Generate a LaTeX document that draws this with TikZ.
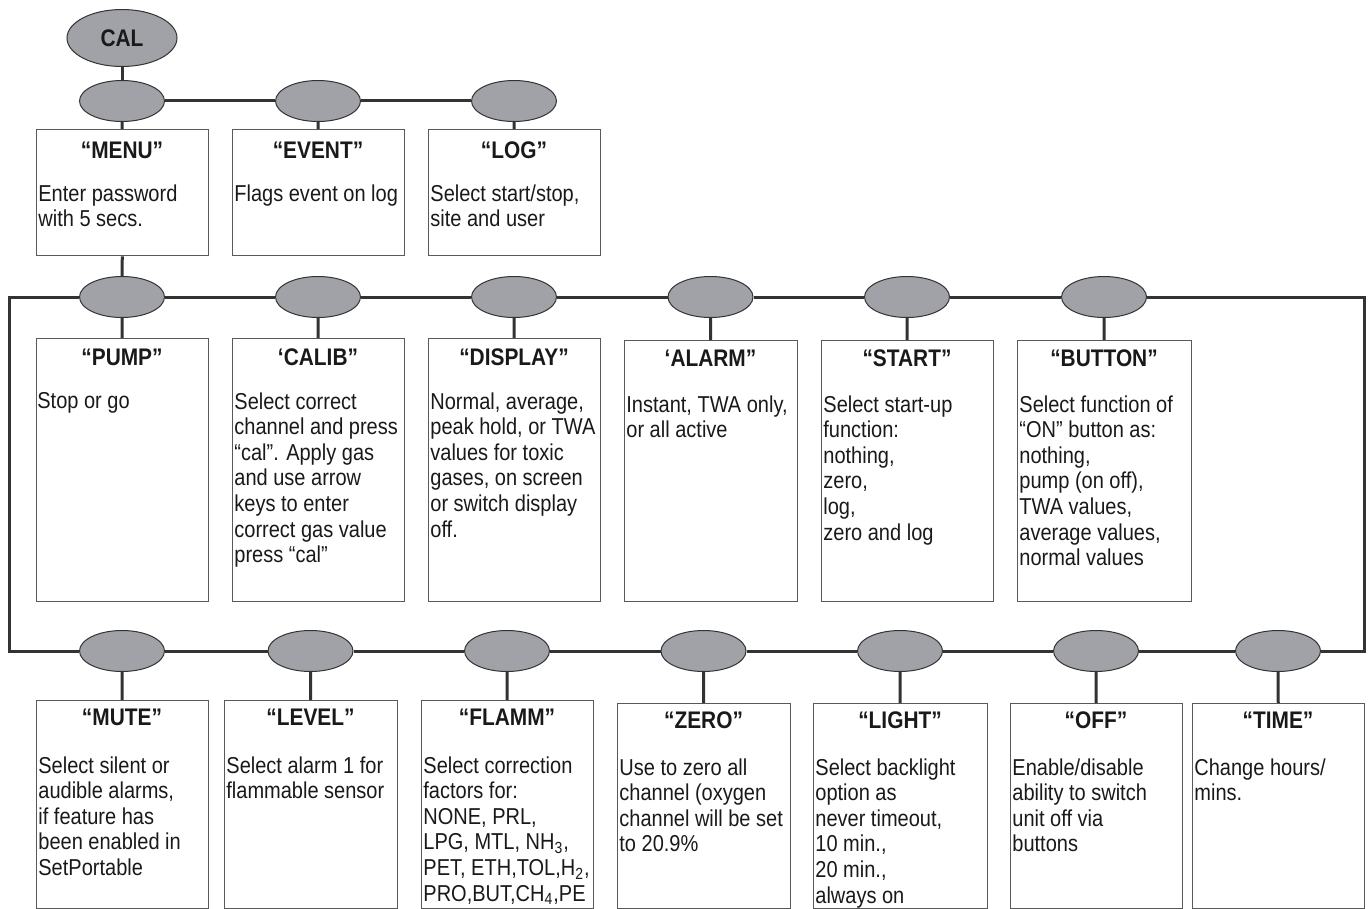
\documentclass[tikz,border=0pt]{standalone}
\usepackage{fontspec}
\setmainfont[FakeStretch=0.87]{Liberation Sans}
\usetikzlibrary{shapes.geometric}
\definecolor{hubgray}{HTML}{A0A2A7}
\definecolor{inkgray}{HTML}{333333}

\begin{document}
\begin{tikzpicture}[x=0.5pt, y=-0.5pt,
  hub/.style={ellipse, draw=inkgray, line width=0.5pt, fill=hubgray,
    minimum width=42.5pt, minimum height=20.5pt, inner sep=0pt},
  card/.style={draw=black!65, line width=0.7pt, anchor=north west, inner sep=0pt,
    minimum width=86pt},
  title/.style={inner sep=0pt, text=black!90, font=\bfseries\fontsize{12}{12.8}\selectfont},
  body/.style={anchor=north west, inner sep=0pt, align=left, text=black!90,
    font=\fontsize{11.5}{12.8}\selectfont},
  link/.style={draw=inkgray, line width=1.5pt}]

\useasboundingbox (0,0) rectangle (1370,909);

\node[hub, minimum width=55pt, minimum height=28.5pt, text=black!90,
  font=\bfseries\fontsize{12}{12.8}\selectfont] (cal) at (122,38) {CAL};

% top row
\node[hub] (hmenu) at (122,101) {};
\node[hub] (hevent) at (318,101) {};
\node[hub] (hlog) at (514,101) {};

\node[card, minimum height=63pt] (menu) at (36,129) {};
\node[card, minimum height=63pt] (event) at (232,129) {};
\node[card, minimum height=63pt] (log) at (428,129) {};

\node[title] (menuT) at (122,150) {“MENU”};
\node[title] (eventT) at (318,150) {“EVENT”};
\node[title] (logT) at (514,150) {“LOG”};

\node[body] (menuB) at (38,184) {Enter password\\with 5 secs.};
\node[body] (eventB) at (234,184) {Flags event on log};
\node[body] (logB) at (430,184) {Select start/stop,\\site and user};

% middle row
\node[hub] (hpump) at (122,297) {};
\node[hub] (hcalib) at (318,297) {};
\node[hub] (hdisplay) at (514,297) {};
\node[hub] (halarm) at (710.5,297) {};
\node[hub] (hstart) at (907,297) {};
\node[hub] (hbutton) at (1104,297) {};

\node[card, minimum height=131.5pt] (pump) at (36,338) {};
\node[card, minimum height=131.5pt] (calib) at (232,338) {};
\node[card, minimum height=131.5pt] (display) at (428,338) {};
\node[card, minimum height=130.5pt, minimum width=86.5pt] (alarm) at (624,340) {};
\node[card, minimum height=130.5pt] (start) at (821,340) {};
\node[card, minimum height=130.5pt, minimum width=87pt] (button) at (1017,340) {};

\node[title] (pumpT) at (122,357) {“PUMP”};
\node[title] (calibT) at (318,357) {‘CALIB”};
\node[title] (displayT) at (514,357) {“DISPLAY”};
\node[title] (alarmT) at (710.5,358) {‘ALARM”};
\node[title] (startT) at (907,358) {“START”};
\node[title] (buttonT) at (1104,358) {“BUTTON”};

\node[body] (pumpB) at (37,392) {Stop or go};
\node[body] (calibB) at (234,392) {Select correct\\channel and press\\“cal”. Apply gas\\and use arrow\\keys to enter\\correct gas value\\press “cal”};
\node[body] (displayB) at (430,392) {Normal, average,\\peak hold, or TWA\\values for toxic\\gases, on screen\\or switch display\\off.};
\node[body] (alarmB) at (626,395) {Instant, TWA only,\\or all active};
\node[body] (startB) at (823,395) {Select start-up\\function:\\nothing,\\zero,\\log,\\zero and log};
\node[body] (buttonB) at (1019,395) {Select function of\\“ON” button as:\\nothing,\\pump (on off),\\TWA values,\\average values,\\normal values};

% bottom row
\node[hub] (hmute) at (122,651) {};
\node[hub] (hlevel) at (310.5,651) {};
\node[hub] (hflamm) at (507,651) {};
\node[hub] (hzero) at (703.5,651) {};
\node[hub] (hlight) at (900,651) {};
\node[hub] (hoff) at (1096,651) {};
\node[hub] (htime) at (1278,651) {};

\node[card, minimum height=104pt] (mute) at (36,700) {};
\node[card, minimum height=104pt, minimum width=86.5pt] (level) at (224,700) {};
\node[card, minimum height=104pt] (flamm) at (421,700) {};
\node[card, minimum height=102.5pt, minimum width=86.5pt] (zero) at (617,703) {};
\node[card, minimum height=102.5pt, minimum width=87pt] (light) at (813,703) {};
\node[card, minimum height=102.5pt] (off) at (1010,703) {};
\node[card, minimum height=102.5pt] (time) at (1192,703) {};

\node[title] (muteT) at (122,717) {“MUTE”};
\node[title] (levelT) at (310.5,717) {“LEVEL”};
\node[title] (flammT) at (507,717) {“FLAMM”};
\node[title] (zeroT) at (703.5,720) {“ZERO”};
\node[title] (lightT) at (900,720) {“LIGHT”};
\node[title] (offT) at (1096,720) {“OFF”};
\node[title] (timeT) at (1278,720) {“TIME”};

\node[body] (muteB) at (38,756) {Select silent or\\audible alarms,\\if feature has\\been enabled in\\SetPortable};
\node[body] (levelB) at (226,756) {Select alarm 1 for\\flammable sensor};
\node[body] (flammB) at (423,756) {Select correction\\factors for:\\NONE, PRL,\\LPG, MTL, NH\textsubscript{3},\\PET, ETH,TOL,H\textsubscript{2},\\PRO,BUT,CH\textsubscript{4},PE};
\node[body] (zeroB) at (619,758) {Use to zero all\\channel (oxygen\\channel will be set\\to 20.9\%};
\node[body] (lightB) at (815,758) {Select backlight\\option as\\never timeout,\\10 min.,\\20 min.,\\always on};
\node[body] (offB) at (1012,758) {Enable/disable\\ability to switch\\unit off via\\buttons};
\node[body] (timeB) at (1194,758) {Change hours/\\mins.};

% loop corners
\coordinate (loopNW) at (9,297);
\coordinate (loopNE) at (1364,297);
\coordinate (loopSE) at (1364,651);
\coordinate (loopSW) at (9,651);

\draw[link] (cal) -- (hmenu);
\draw[link] (hmenu) -- (hevent) -- (hlog);
\draw[link] (hmenu) -- (menu);
\draw[link] (hevent) -- (event);
\draw[link] (hlog) -- (log);
\draw[link] (menu) -- (hpump);

\draw[link] (hpump) -- (hcalib) -- (hdisplay) -- (halarm) -- (hstart) -- (hbutton)
  -- (loopNE) -- (loopSE) -- (htime) -- (hoff) -- (hlight) -- (hzero) -- (hflamm)
  -- (hlevel) -- (hmute) -- (loopSW) -- (loopNW) -- (hpump);

\draw[link] (hpump) -- (pump);
\draw[link] (hcalib) -- (calib);
\draw[link] (hdisplay) -- (display);
\draw[link] (halarm) -- (alarm);
\draw[link] (hstart) -- (start);
\draw[link] (hbutton) -- (button);

\draw[link] (hmute) -- (mute);
\draw[link] (hlevel) -- (level);
\draw[link] (hflamm) -- (flamm);
\draw[link] (hzero) -- (zero);
\draw[link] (hlight) -- (light);
\draw[link] (hoff) -- (off);
\draw[link] (htime) -- (time);

\end{tikzpicture}
\end{document}
